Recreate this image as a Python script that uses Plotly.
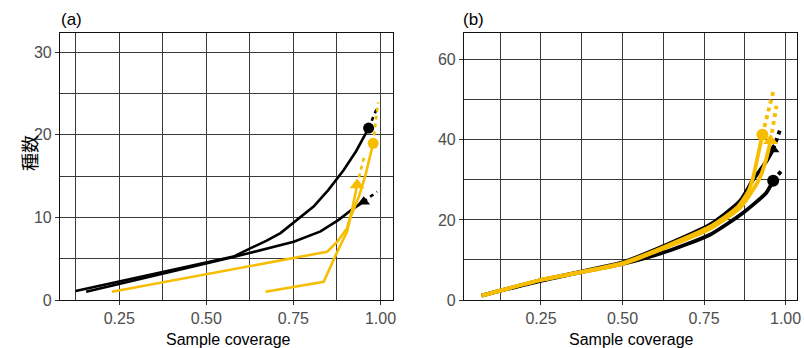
import plotly.graph_objects as go

# ---------------- data ----------------
# Panel (a)
a_black_circle_x = [0.125, 0.483, 0.578, 0.626, 0.672, 0.713, 0.761, 0.808, 0.85, 0.894, 0.93, 0.966]
a_black_circle_y = [1.1, 4.4, 5.25, 6.25, 7.15, 8.1, 9.7, 11.3, 13.3, 15.7, 18.0, 20.8]
a_black_circle_ext_x = [0.966, 0.981, 0.992]
a_black_circle_ext_y = [20.8, 22.2, 23.4]

a_black_tri_x = [0.155, 0.483, 0.578, 0.751, 0.828, 0.88, 0.92, 0.952]
a_black_tri_y = [1.0, 4.3, 5.2, 7.05, 8.3, 9.7, 11.0, 11.9]
a_black_tri_ext_x = [0.952, 0.99]
a_black_tri_ext_y = [11.9, 13.1]

a_yellow_tri_x = [0.229, 0.483, 0.847, 0.876, 0.904, 0.919, 0.928, 0.933]
a_yellow_tri_y = [1.0, 3.02, 5.84, 7.05, 8.67, 11.0, 12.7, 13.9]
a_yellow_tri_ext_x = [0.933, 0.953]
a_yellow_tri_ext_y = [13.9, 17.3]

a_yellow_circle_x = [0.67, 0.837, 0.876, 0.904, 0.914, 0.938, 0.957, 0.969, 0.979]
a_yellow_circle_y = [1.0, 2.2, 5.84, 8.26, 10.0, 12.5, 15.1, 17.3, 18.95]
a_yellow_circle_ext_x = [0.979, 0.993]
a_yellow_circle_ext_y = [18.95, 23.9]

# Panel (b)
b_black_circle_x = [0.068, 0.25, 0.431, 0.5, 0.635, 0.768, 0.87, 0.941, 0.962]
b_black_circle_y = [1.1, 4.8, 7.9, 9.0, 12.1, 16.3, 21.8, 26.8, 29.8]
b_black_circle_ext_x = [0.962, 0.99]
b_black_circle_ext_y = [29.8, 32.5]

b_black_tri_x = [0.068, 0.25, 0.5, 0.635, 0.768, 0.86, 0.9, 0.94, 0.962]
b_black_tri_y = [1.1, 5.0, 9.4, 13.8, 18.8, 24.7, 30.0, 34.5, 37.6]
b_black_tri_ext_x = [0.962, 0.985]
b_black_tri_ext_y = [37.6, 43.0]

b_yellow_circle_x = [0.068, 0.25, 0.5, 0.635, 0.768, 0.85, 0.885, 0.9, 0.915, 0.929]
b_yellow_circle_y = [1.1, 5.0, 9.2, 13.5, 18.3, 23.0, 27.0, 30.5, 36.0, 41.3]
b_yellow_circle_ext_x = [0.929, 0.962]
b_yellow_circle_ext_y = [41.3, 52.0]

b_yellow_tri_x = [0.068, 0.25, 0.5, 0.635, 0.768, 0.86, 0.9, 0.921, 0.94, 0.954]
b_yellow_tri_y = [1.1, 5.0, 9.0, 13.2, 17.8, 23.0, 27.5, 30.5, 35.0, 39.8]
b_yellow_tri_ext_x = [0.954, 0.972]
b_yellow_tri_ext_y = [39.8, 48.5]

x_tickvals = [0.25, 0.50, 0.75, 1.00]
x_ticktext = ["0.25", "0.50", "0.75", "1.00"]
a_y_tickvals = [0, 10, 20, 30]
b_y_tickvals = [0, 20, 40, 60]

BLACK = "#000000"
YELLOW = "#F7BD00"

fig = go.Figure()

def add_series(xs, ys, ex, ey, color, symbol, xa, ya, lw, ms, shape):
    line = dict(color=color, width=lw, shape=shape)
    if shape == "spline":
        line["smoothing"] = 0.6
    fig.add_trace(go.Scatter(x=xs, y=ys, mode="lines", line=line,
                             xaxis=xa, yaxis=ya, showlegend=False, hoverinfo="skip"))
    fig.add_trace(go.Scatter(x=ex, y=ey, mode="lines",
                             line=dict(color=color, width=lw, dash="4px,4px"),
                             xaxis=xa, yaxis=ya, showlegend=False, hoverinfo="skip"))
    fig.add_trace(go.Scatter(x=[xs[-1]], y=[ys[-1]], mode="markers",
                             marker=dict(color=color, symbol=symbol, size=ms, line=dict(width=0)),
                             xaxis=xa, yaxis=ya, showlegend=False, hoverinfo="skip"))

# panel a
add_series(a_black_circle_x, a_black_circle_y, a_black_circle_ext_x, a_black_circle_ext_y, BLACK, "circle", "x", "y", 2.6, 11, "linear")
add_series(a_black_tri_x, a_black_tri_y, a_black_tri_ext_x, a_black_tri_ext_y, BLACK, "triangle-up", "x", "y", 2.6, 11, "linear")
add_series(a_yellow_tri_x, a_yellow_tri_y, a_yellow_tri_ext_x, a_yellow_tri_ext_y, YELLOW, "triangle-up", "x", "y", 2.6, 13, "linear")
add_series(a_yellow_circle_x, a_yellow_circle_y, a_yellow_circle_ext_x, a_yellow_circle_ext_y, YELLOW, "circle", "x", "y", 2.6, 11, "linear")

# panel b
add_series(b_black_circle_x, b_black_circle_y, b_black_circle_ext_x, b_black_circle_ext_y, BLACK, "circle", "x2", "y2", 3.8, 12, "spline")
add_series(b_black_tri_x, b_black_tri_y, b_black_tri_ext_x, b_black_tri_ext_y, BLACK, "triangle-up", "x2", "y2", 3.8, 11, "spline")
add_series(b_yellow_tri_x, b_yellow_tri_y, b_yellow_tri_ext_x, b_yellow_tri_ext_y, YELLOW, "triangle-up", "x2", "y2", 3.8, 13, "spline")
add_series(b_yellow_circle_x, b_yellow_circle_y, b_yellow_circle_ext_x, b_yellow_circle_ext_y, YELLOW, "circle", "x2", "y2", 3.8, 12, "spline")

W, H = 804, 348
TICKFONT = dict(family="Arial, Liberation Sans, sans-serif", size=16, color="#4d4d4d")
GRID = "#3a3a3a"

def xaxis(dom, rng, anchor):
    return dict(domain=dom, range=rng, anchor=anchor, tickvals=x_tickvals, ticktext=x_ticktext,
                ticks="outside", ticklen=4, tickcolor="#333", tickwidth=1,
                showgrid=True, gridcolor=GRID, gridwidth=0.9,
                minor=dict(dtick=0.125, tick0=0, showgrid=True, gridcolor=GRID, gridwidth=0.8),
                showline=True, linecolor="#111", linewidth=1.2, mirror=True,
                zeroline=False, tickfont=TICKFONT, automargin=False)

def yaxis(dom, rng, anchor, tv, minor_dt):
    return dict(domain=dom, range=rng, anchor=anchor, tickvals=tv,
                ticks="outside", ticklen=4, tickcolor="#333", tickwidth=1,
                showgrid=True, gridcolor=GRID, gridwidth=0.9,
                minor=dict(dtick=minor_dt, tick0=0, showgrid=True, gridcolor=GRID, gridwidth=0.8),
                showline=True, linecolor="#111", linewidth=1.2, mirror=True,
                zeroline=False, tickfont=TICKFONT, automargin=False)

ydom = [(H - 300) / H, (H - 33) / H]
fig.update_layout(
    width=W, height=H, margin=dict(l=0, r=0, t=0, b=0, autoexpand=False),
    paper_bgcolor="white", plot_bgcolor="white",
    xaxis=xaxis([60 / W, 393 / W], [0.08, 1.036], "y"),
    yaxis=yaxis(ydom, [0, 32.3], "x", a_y_tickvals, 5),
    xaxis2=xaxis([464 / W, 797 / W], [0.014, 1.035], "y2"),
    yaxis2=yaxis(ydom, [0, 66.7], "x2", b_y_tickvals, 10),
    annotations=[
        dict(text="(a)", x=59 / W, y=(H - 19) / H, xref="paper", yref="paper", xanchor="left",
             yanchor="middle", showarrow=False, font=dict(family="Arial, Liberation Sans", size=17, color="black")),
        dict(text="(b)", x=461 / W, y=(H - 19) / H, xref="paper", yref="paper", xanchor="left",
             yanchor="middle", showarrow=False, font=dict(family="Arial, Liberation Sans", size=17, color="black")),
        dict(text="Sample coverage", x=228 / W, y=(H - 339) / H, xref="paper", yref="paper",
             xanchor="center", yanchor="middle", showarrow=False,
             font=dict(family="Arial, Liberation Sans", size=16, color="black")),
        dict(text="Sample coverage", x=631 / W, y=(H - 339) / H, xref="paper", yref="paper",
             xanchor="center", yanchor="middle", showarrow=False,
             font=dict(family="Arial, Liberation Sans", size=16, color="black")),
        dict(text="種数", x=29 / W, y=(H - 153) / H, xref="paper", yref="paper", textangle=-90,
             xanchor="center", yanchor="middle", showarrow=False,
             font=dict(family="Noto Sans CJK JP", size=18, color="black")),
    ],
)

fig.write_html("out.html", config={"displayModeBar": False},
               post_script="document.body.style.margin='0';document.body.style.overflow='hidden';")
